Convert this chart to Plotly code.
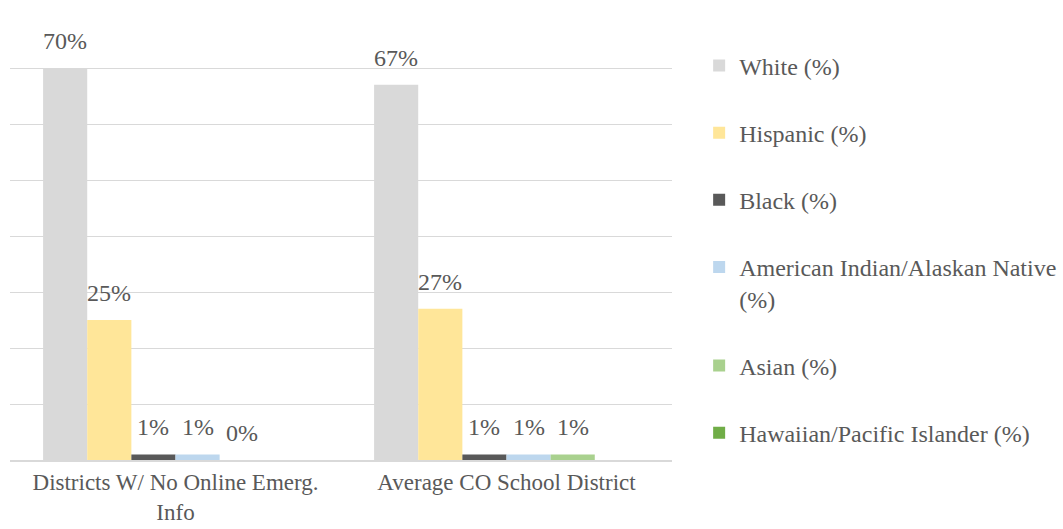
import plotly.graph_objects as go

categories = ["Districts W/ No Online Emerg.<br>Info", "Average CO School District"]
series_names = ["White (%)", "Hispanic (%)", "Black (%)",
                "American Indian/Alaskan Native<br>(%)", "Asian (%)",
                "Hawaiian/Pacific Islander (%)"]
white = [70, 67]
hispanic = [25, 27]
black = [1, 1]
am_indian = [1, 1]
asian = [0, 1]
hawaiian = [0, 0]
labels = [
    ["70%", "67%"],
    ["25%", "27%"],
    ["1%", "1%"],
    ["1%", "1%"],
    ["0%", "1%"],
    [None, None],
]
colors = ["#D9D9D9", "#FFE699", "#595959", "#BDD7EE", "#A9D18E", "#70AD47"]

values = [white, hispanic, black, am_indian, asian, hawaiian]
FONT = "Liberation Serif"
TXT = "#595959"
BARGAP = 0.2

fig = go.Figure()
for i, (name, vals, col) in enumerate(zip(series_names, values, colors)):
    fig.add_trace(go.Bar(x=list(range(len(categories))), y=vals, name=name,
                         marker=dict(color=col, line=dict(width=0)),
                         legendgroup=str(i)))

n = len(values)
w = (1 - BARGAP) / n
annotations = []
for j, (vals, labs) in enumerate(zip(values, labels)):
    for c, (v, lab) in enumerate(zip(vals, labs)):
        if lab is None:
            continue
        annotations.append(dict(x=c + (j - (n - 1) / 2) * w, y=v, xref="x", yref="y",
                                text=lab, showarrow=False, yanchor="middle", yshift=27,
                                font=dict(family=FONT, size=24, color=TXT)))

fig.update_layout(
    width=1063, height=529,
    margin=dict(l=10, r=391, t=12, b=69, autoexpand=False),
    barmode="group", bargap=BARGAP, bargroupgap=0,
    plot_bgcolor="white", paper_bgcolor="white",
    font=dict(family=FONT, color=TXT, size=24),
    showlegend=True,
    legend=dict(x=1.041, y=0.93, xanchor="left", yanchor="top",
                font=dict(family=FONT, size=24, color=TXT),
                tracegroupgap=33, valign="top", traceorder="grouped",
                bgcolor="rgba(0,0,0,0)"),
    annotations=annotations,
)
fig.update_xaxes(tickmode="array", tickvals=list(range(len(categories))), ticktext=categories,
                 range=[-0.5, len(categories) - 0.5],
                 showline=True, linecolor="#D9D9D9", linewidth=1.5, ticks="",
                 ticklabelstandoff=1,
                 tickfont=dict(family=FONT, size=23, color=TXT), showgrid=False)
fig.update_yaxes(range=[0, 80], dtick=10, showgrid=True, gridcolor="#D9D9D9", gridwidth=1,
                 showticklabels=False, zeroline=False, showline=False)

fig.write_html("out.html")
